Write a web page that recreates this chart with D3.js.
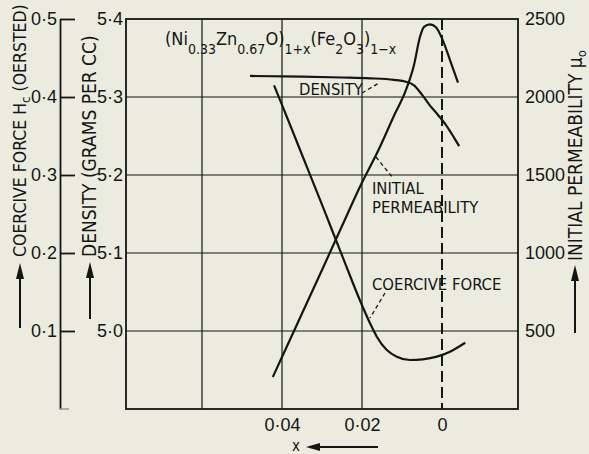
<!DOCTYPE html>
<html>
<head>
<meta charset="utf-8">
<script src="https://cdn.jsdelivr.net/npm/d3@7"></script>
<style>
  html, body { margin: 0; padding: 0; background: #ebebdf; }
  svg { display: block; }
  .num { font-family: "Liberation Sans", Arial, sans-serif; font-size: 18px; fill: #151515; }
  .lbl { font-family: "Liberation Sans Narrow", "DejaVu Sans Condensed", sans-serif; font-size: 17.5px; fill: #151515; }
</style>
</head>
<body>
<svg id="chart" width="589" height="454"></svg>
<script>
// Composition x (decreasing to the right)
const gridX = [0.06, 0.04, 0.02];
const xTicks = [0.04, 0.02, 0];
const xTickLabels = ["0·04", "0·02", "0"];

// Left axes: coercive force (oersted) and density (g/cc)
const hcTicks = [0.1, 0.2, 0.3, 0.4, 0.5];
const hcTickLabels = ["0·1", "0·2", "0·3", "0·4", "0·5"];
const densityTicks = [5.0, 5.1, 5.2, 5.3, 5.4];
const densityTickLabels = ["5·0", "5·1", "5·2", "5·3", "5·4"];

// Right axis: initial permeability
const permTicks = [500, 1000, 1500, 2000, 2500];
const permTickLabels = ["500", "1000", "1500", "2000", "2500"];

// Density curve
const densityX = [0.048, 0.035, 0.025, 0.018, 0.012, 0.009, 0.007, 0.005, 0.003, 0.001, -0.001, -0.003, -0.0043];
const densityY = [5.327, 5.326, 5.325, 5.324, 5.322, 5.3195, 5.315, 5.303, 5.289, 5.277, 5.264, 5.248, 5.237];

// Initial permeability curve
const permX = [0.0423, 0.04, 0.035, 0.03, 0.025, 0.02, 0.016, 0.012, 0.009, 0.007, 0.0055, 0.0045, 0.003, 0.0015, 0.0, -0.002, -0.004];
const permY = [205, 333, 612, 891, 1173, 1452, 1654, 1880, 2045, 2205, 2386, 2450, 2466, 2447, 2376, 2237, 2092];

// Coercive force curve
const hcX = [0.042, 0.04, 0.035, 0.03, 0.025, 0.02, 0.018, 0.0163, 0.0138, 0.0113, 0.008, 0.0048, 0.0013, -0.002, -0.0058];
const hcY = [0.415, 0.390, 0.326, 0.262, 0.197, 0.133, 0.110, 0.0927, 0.0756, 0.0671, 0.0628, 0.0637, 0.0671, 0.0735, 0.085];

const svg = d3.select("#chart");
const L = 126, R = 518, T = 19, B = 409;

const x = d3.scaleLinear().domain([0.079, -0.019]).range([L, R]);
const yDen = d3.scaleLinear().domain([4.9, 5.4]).range([B, T]);
const yHc = d3.scaleLinear().domain([0, 0.5]).range([B, T]);
const yPerm = d3.scaleLinear().domain([0, 2500]).range([B, T]);

const ink = "#151515";

// Grid
const grid = svg.append("g").attr("stroke", ink).attr("stroke-width", 1.2);
grid.selectAll("line.h").data(densityTicks.filter(d => d < 5.4)).join("line")
  .attr("x1", L).attr("x2", R).attr("y1", d => yDen(d)).attr("y2", d => yDen(d));
grid.selectAll("line.v").data(gridX).join("line")
  .attr("y1", T).attr("y2", B).attr("x1", d => x(d)).attr("x2", d => x(d));

// x = 0 reference (dashed)
svg.append("line")
  .attr("x1", x(0)).attr("x2", x(0)).attr("y1", T).attr("y2", B)
  .attr("stroke", ink).attr("stroke-width", 2).attr("stroke-dasharray", "11,5");

// Frame
svg.append("rect").attr("x", L).attr("y", T).attr("width", R - L).attr("height", B - T)
  .attr("fill", "none").attr("stroke", ink).attr("stroke-width", 1.8);

// Axes
const fmt = (vals, labels) => d => labels[vals.indexOf(d)];

const hcAxis = svg.append("g").attr("transform", "translate(60,0)")
  .call(d3.axisLeft(yHc).tickValues(hcTicks).tickFormat(fmt(hcTicks, hcTickLabels))
    .tickSizeInner(-15).tickSizeOuter(0).tickPadding(3));
hcAxis.selectAll("text").attr("class", "num");

const denAxis = svg.append("g").attr("transform", `translate(${L},0)`)
  .call(d3.axisLeft(yDen).tickValues(densityTicks).tickFormat(fmt(densityTicks, densityTickLabels))
    .tickSize(0).tickPadding(3));
denAxis.select(".domain").remove();
denAxis.selectAll("text").attr("class", "num");

const permAxis = svg.append("g").attr("transform", `translate(${R},0)`)
  .call(d3.axisRight(yPerm).tickValues(permTicks).tickFormat(fmt(permTicks, permTickLabels))
    .tickSize(0).tickPadding(7));
permAxis.select(".domain").remove();
permAxis.selectAll("text").attr("class", "num");

const xAxis = svg.append("g").attr("transform", `translate(0,${B})`)
  .call(d3.axisBottom(x).tickValues(xTicks).tickFormat(fmt(xTicks, xTickLabels))
    .tickSize(0).tickPadding(9));
xAxis.select(".domain").remove();
xAxis.selectAll("text").attr("class", "num");

[hcAxis, denAxis, permAxis, xAxis].forEach(g => {
  g.attr("font-family", null).attr("font-size", null);
  g.selectAll("line, path").attr("stroke", ink).attr("stroke-width", 1.8);
});

// small foot of the coercive-force scale
svg.append("path").attr("d", `M60,${B}H69`).attr("stroke", "#9a9a90").attr("stroke-width", 1.5);

// Curves
const line = d3.line().curve(d3.curveMonotoneX);
const curves = [
  densityX.map((d, i) => [x(d), yDen(densityY[i])]),
  permX.map((d, i) => [x(d), yPerm(permY[i])]),
  hcX.map((d, i) => [x(d), yHc(hcY[i])])
];
svg.selectAll("path.curve").data(curves).join("path")
  .attr("class", "curve").attr("d", line)
  .attr("fill", "none").attr("stroke", ink).attr("stroke-width", 2.2);

// Curve labels with dashed leaders
const labels = [
  { text: "DENSITY", x: 299, y: 95 },
  { text: "INITIAL", x: 372, y: 194 },
  { text: "PERMEABILITY", x: 372, y: 213 },
  { text: "COERCIVE FORCE", x: 372, y: 290 }
];
svg.selectAll("text.curvelbl").data(labels).join("text")
  .attr("class", "lbl").attr("x", d => d.x).attr("y", d => d.y)
  .style("font-size", "16.5px").text(d => d.text);

const leaders = [
  [[362, 93], [379, 83]],
  [[376, 157], [393, 178]],
  [[385, 293], [370, 318]]
];
svg.selectAll("path.leader").data(leaders).join("path")
  .attr("d", d3.line()).attr("fill", "none").attr("stroke", ink)
  .attr("stroke-width", 1.3).attr("stroke-dasharray", "4,3");

// Formula
const title = svg.append("text").attr("class", "lbl").attr("x", 165).attr("y", 45);
const parts = [
  ["(Ni", 0], ["0.33", 1], ["Zn", 0], ["0.67", 1], ["O)", 0], ["1+x", 1],
  ["(Fe", 0], ["2", 1], ["O", 0], ["3", 1], [")", 0], ["1−x", 1]
];
let lvl = 0;
parts.forEach(([t, sub]) => {
  const dy = sub === lvl ? 0 : (sub ? 9 : -9);
  lvl = sub;
  title.append("tspan").attr("dy", dy).style("font-size", sub ? "14px" : "18px").text(t);
});

// Axis titles with upward arrows
function arrowUp(cx, top, bottom) {
  svg.append("line").attr("x1", cx).attr("x2", cx).attr("y1", top + 12).attr("y2", bottom)
    .attr("stroke", ink).attr("stroke-width", 2);
  svg.append("path").attr("d", `M${cx},${top}L${cx - 4},${top + 16}L${cx + 4},${top + 16}Z`).attr("fill", ink);
}
function vLabel(parts, cx, y, size) {
  const t = svg.append("text").attr("class", "lbl").style("font-size", size)
    .attr("transform", `translate(${cx},${y}) rotate(-90)`);
  parts.forEach(([s, sub]) => {
    const ts = t.append("tspan").attr("dy", sub === "down" ? 4 : sub === "up" ? -4 : 0).text(s);
    if (sub === "down") ts.style("font-size", "13px");
  });
  return t;
}
vLabel([["COERCIVE FORCE H", 0], ["c", "down"], [" (OERSTED)", "up"]], 26, 257, "17.5px");
arrowUp(20, 263, 328);
vLabel([["DENSITY (GRAMS PER CC)", 0]], 96, 257, "19px");
arrowUp(90, 262, 319);
vLabel([["INITIAL PERMEABILITY ", 0], ["μ", 0], ["o", "down"]], 582, 261, "19px");
arrowUp(575, 265, 333);

// x label with leftward arrow
svg.append("text").attr("class", "lbl").attr("x", 292).attr("y", 451).style("font-size", "15px").text("x");
svg.append("line").attr("x1", 315).attr("x2", 378).attr("y1", 447).attr("y2", 447)
  .attr("stroke", ink).attr("stroke-width", 2);
svg.append("path").attr("d", "M306,447L320,443L320,451Z").attr("fill", ink);
</script>
</body>
</html>
